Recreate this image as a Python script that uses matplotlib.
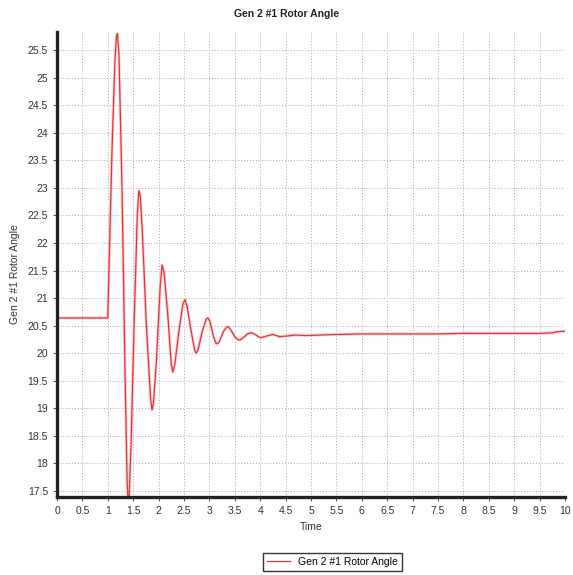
import numpy as np
import matplotlib
matplotlib.use("Agg")
import matplotlib.pyplot as plt

plt.rcParams['font.family'] = ['Liberation Sans Narrow', 'Liberation Sans', 'DejaVu Sans']

# time (s) and rotor angle
time = [0.0, 1.00, 1.02, 1.08, 1.14, 1.17, 1.19, 1.22, 1.28, 1.34, 1.38, 1.40,
        1.42, 1.46, 1.52, 1.58, 1.61, 1.64, 1.68, 1.76, 1.84, 1.87, 1.90, 1.96,
        2.03, 2.07, 2.11, 2.18, 2.25, 2.28, 2.32, 2.40, 2.48, 2.52, 2.56, 2.64,
        2.71, 2.74, 2.78, 2.86, 2.94, 2.97, 3.01, 3.08, 3.13, 3.15, 3.19, 3.28,
        3.35, 3.37, 3.41, 3.50, 3.57, 3.60, 3.65, 3.75, 3.82, 3.84, 3.90, 4.00,
        4.12, 4.25, 4.38, 4.50, 4.70, 4.90, 5.20, 5.50, 6.0, 6.5, 7.0, 7.5,
        8.0, 8.5, 9.0, 9.5, 9.75, 9.85, 10.0]
angle = [20.64, 20.64, 21.4, 23.6, 25.3, 25.75, 25.8, 25.4, 23.0, 19.6, 17.7, 17.3,
         17.4, 18.4, 20.6, 22.5, 22.95, 22.85, 22.2, 20.5, 19.2, 18.97, 19.1, 19.9,
         21.2, 21.6, 21.45, 20.7, 19.8, 19.66, 19.8, 20.4, 20.9, 20.97, 20.85, 20.4,
         20.05, 20.0, 20.07, 20.4, 20.62, 20.64, 20.58, 20.3, 20.18, 20.17, 20.2, 20.4,
         20.48, 20.48, 20.44, 20.3, 20.24, 20.24, 20.27, 20.35, 20.37, 20.37, 20.34, 20.28,
         20.31, 20.34, 20.30, 20.31, 20.33, 20.32, 20.33, 20.34, 20.35, 20.35, 20.35, 20.35,
         20.36, 20.36, 20.36, 20.36, 20.37, 20.39, 20.40]

label = 'Gen 2 #1 Rotor Angle'

fig = plt.figure(figsize=(5.73, 5.75), dpi=100)
ax = fig.add_axes([0.0995, 0.1357, 0.8865, 0.8086])

ax.plot(time, angle, color='#f7b5b5', lw=2.2, alpha=0.6, solid_joinstyle='round')
line, = ax.plot(time, angle, color='#e0353a', lw=0.9, label=label)

ax.set_xlim(0, 10)
ax.set_ylim(17.39, 25.83)
ax.set_xticks(np.arange(0, 10.01, 0.5))
ax.set_yticks(np.arange(17.5, 25.51, 0.5))
ax.set_xticklabels(['%g' % v for v in np.arange(0, 10.01, 0.5)])
ax.set_yticklabels(['%g' % v for v in np.arange(17.5, 25.51, 0.5)])
ax.tick_params(labelsize=7.5, colors='#333333', length=3, width=0.6)

ax.grid(True, color='#a8a8a8', linestyle=(0, (1, 2)), lw=0.7)
for s in ['top', 'right']:
    ax.spines[s].set_visible(False)
for s in ['left', 'bottom']:
    ax.spines[s].set_linewidth(2.4)
    ax.spines[s].set_color('#222222')

ax.set_xlabel('Time', fontsize=7.5, color='#333333', labelpad=4)
ax.set_ylabel(label, fontsize=7.5, color='#333333', labelpad=4)
ax.yaxis.set_label_coords(-0.072, 0.48)
fig.suptitle(label, x=0.5, y=0.985, fontsize=7.5, fontweight='bold', color='#222222')

leg = fig.legend(handles=[line], loc='center', bbox_to_anchor=(0.58, 0.023),
                 fontsize=7.5, fancybox=False, edgecolor='#333333', framealpha=1,
                 handlelength=2.2, borderpad=0.4)
leg.get_frame().set_linewidth(1.0)

fig.savefig('out.png', dpi=100)
